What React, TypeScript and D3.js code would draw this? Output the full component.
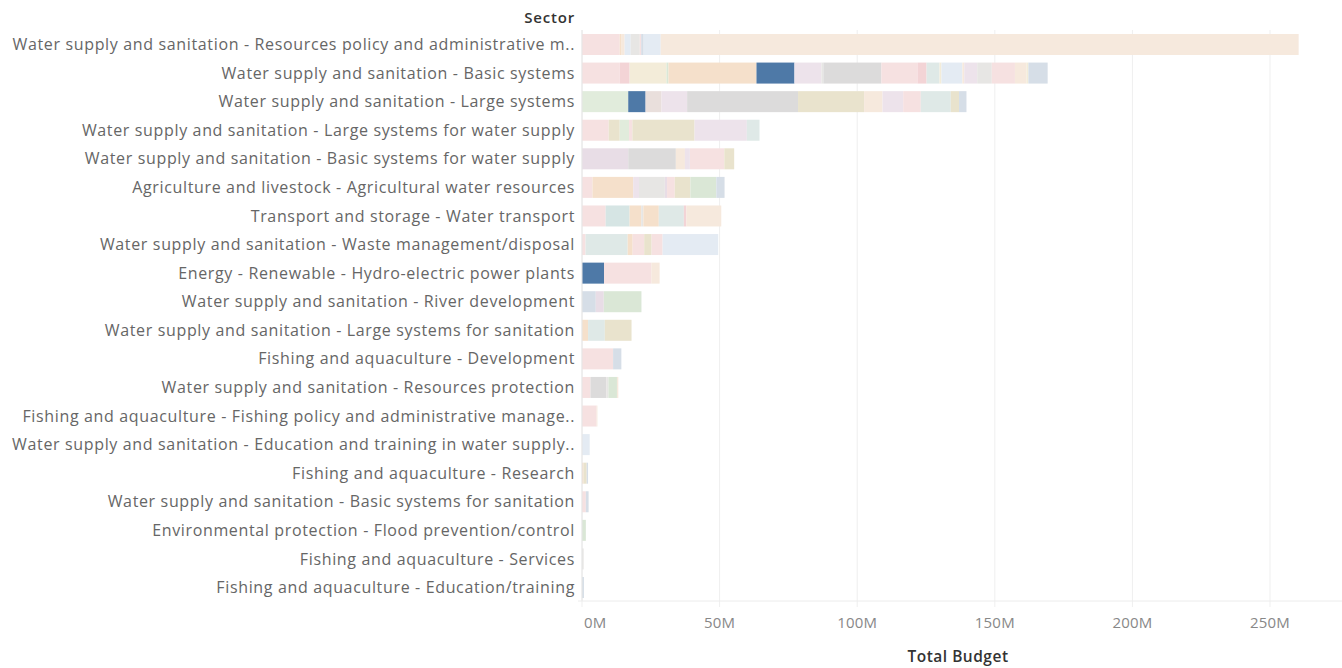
import React from "react";
import * as d3 from "d3";

const sectors = [
  "Water supply and sanitation - Resources policy and administrative m..",
  "Water supply and sanitation - Basic systems",
  "Water supply and sanitation - Large systems",
  "Water supply and sanitation - Large systems for water supply",
  "Water supply and sanitation - Basic systems for water supply",
  "Agriculture and livestock - Agricultural water resources",
  "Transport and storage - Water transport",
  "Water supply and sanitation - Waste management/disposal",
  "Energy - Renewable - Hydro-electric power plants",
  "Water supply and sanitation - River development",
  "Water supply and sanitation - Large systems for sanitation",
  "Fishing and aquaculture - Development",
  "Water supply and sanitation - Resources protection",
  "Fishing and aquaculture - Fishing policy and administrative manage..",
  "Water supply and sanitation - Education and training in water supply..",
  "Fishing and aquaculture - Research",
  "Water supply and sanitation - Basic systems for sanitation",
  "Environmental protection - Flood prevention/control",
  "Fishing and aquaculture - Services",
  "Fishing and aquaculture - Education/training",
];

// budget per stacked segment (millions)
const segmentValues: number[][] = [
  [13.7, 0.7, 1.1, 2.2, 3.3, 0.5, 0.9, 6.2, 231.8],
  [13.7, 3.6, 13.4, 0.7, 32.0, 13.8, 9.8, 0.7, 21.1, 13.1, 3.3, 4.7, 0.7, 7.6, 0.7, 4.7, 5.3, 8.4, 4.2, 0.7, 7.0],
  [16.8, 6.3, 5.8, 9.3, 40.3, 24.0, 6.7, 7.5, 6.4, 10.9, 3.0, 2.7],
  [9.7, 4.0, 3.4, 1.2, 22.6, 19.0, 4.6],
  [16.8, 17.3, 3.3, 1.8, 12.5, 3.6],
  [3.8, 14.8, 2.1, 9.4, 0.8, 2.8, 5.7, 9.4, 3.0],
  [8.6, 8.7, 4.2, 0.8, 5.6, 9.1, 0.9, 12.7],
  [1.3, 15.3, 1.8, 4.2, 2.7, 4.0, 20.2],
  [8.0, 17.2, 3.0],
  [5.0, 2.9, 13.7],
  [2.2, 6.1, 9.7],
  [11.3, 3.0],
  [3.1, 5.8, 0.7, 3.1, 0.5],
  [5.3, 0.3],
  [2.8],
  [0.6, 1.1, 0.5],
  [1.4, 1.0],
  [1.4],
  [0.6],
  [0.7],
];

// sub-category (colour group) of each segment
const segmentGroups: string[][] = [
  ["pink", "orange", "peach", "lightblue", "lightgray", "pink", "bluegray", "lightblue", "peach"],
  ["pink", "pinkDeep", "cream", "green", "orange", "highlight", "lavender", "lightgray", "gray", "pink", "pinkDeep", "teal", "cream", "lightblue", "peach", "lavender", "lightgray", "pink", "peach", "cream", "bluegray"],
  ["greenLight", "highlight", "brown", "lavender", "gray", "olive", "peach", "lavender", "pink", "teal", "olive", "bluegray"],
  ["pink", "olive", "greenLight", "pink", "olive", "lavender", "teal"],
  ["mauve", "gray", "peach", "lavender", "pink", "olive"],
  ["pink", "orange", "lavender", "lightgray", "mauve", "pink", "olive", "green", "bluegray"],
  ["pink", "teal2", "orange", "lightgray", "orange", "teal", "pinkDeep", "peach"],
  ["pink", "teal", "orange", "pink", "olive", "pink", "lightblue"],
  ["highlight", "pink", "peach"],
  ["bluegray", "mauve", "green"],
  ["orange", "teal", "olive"],
  ["pink", "bluegray"],
  ["pink", "gray", "lightgray", "green", "peach"],
  ["pink", "peach"],
  ["lightblue"],
  ["orange", "olive", "bluegray"],
  ["pink", "bluegray"],
  ["green"],
  ["lightgray"],
  ["bluegray"],
];

const tickValues = [0, 50, 100, 150, 200, 250];

const palette: Record<string, string> = {
  pink: "#f6e1e1",
  pinkDeep: "#f3d4d6",
  peach: "#f6e9dd",
  orange: "#f5e0cb",
  cream: "#f3ecd9",
  olive: "#e9e3cd",
  greenLight: "#e1ecdc",
  green: "#dae7d6",
  teal: "#dfe9e7",
  teal2: "#d6e5e4",
  lightblue: "#e4ebf3",
  bluegray: "#d6dee7",
  gray: "#dcdbdb",
  lightgray: "#e7e6e4",
  lavender: "#ede3eb",
  mauve: "#e8dde6",
  brown: "#e9dfdc",
  highlight: "#4e79a7",
};

const W = 1342;
const H = 668;
const FONT = "'Open Sans', sans-serif";

export default function App() {
  const x = d3.scaleLinear().domain([0, 273.5]).range([582, 1334.7]);
  const y = d3.scaleBand<string>().domain(sectors).range([30.2, 601.8]).padding(0);
  const barH = y.bandwidth() * 0.735;
  const axisY = 601;

  return (
    <svg width={W} height={H} style={{ position: "absolute", left: 0, top: 0, background: "#fff" }} fontFamily={FONT}>
      {tickValues.map((t) => (
        <line key={"g" + t} x1={x(t)} x2={x(t)} y1={30} y2={axisY + 6} stroke="#efefef" strokeWidth={1} />
      ))}
      {sectors.map((s, i) => {
        const stack = d3.cumsum([0, ...segmentValues[i]]);
        const y0 = (y(s) as number) + (y.bandwidth() - barH) / 2;
        return (
          <g key={s}>
            {segmentValues[i].map((v, j) => (
              <rect
                key={j}
                x={x(stack[j])}
                y={y0}
                width={Math.max(0.6, x(stack[j] + v) - x(stack[j]))}
                height={barH}
                fill={palette[segmentGroups[i][j]]}
              />
            ))}
          </g>
        );
      })}
      <line x1={x(0)} x2={x(0)} y1={30} y2={axisY} stroke="#e6e6e6" />
      <line x1={578} x2={W} y1={axisY} y2={axisY} stroke="#ececec" />
      {sectors.map((s) => (
        <text
          key={"l" + s}
          x={575}
          y={(y(s) as number) + y.bandwidth() / 2}
          dy="0.35em"
          textAnchor="end"
          fontSize={16}
          letterSpacing={0.65}
          fill="#666"
        >
          {s}
        </text>
      ))}
      <text x={575} y={23} textAnchor="end" fontSize={15} letterSpacing={0.8} fontWeight="600" fill="#333">
        Sector
      </text>
      {tickValues.map((t, i) => (
        <text
          key={"t" + t}
          x={i === 0 ? x(t) + 2 : x(t)}
          y={628}
          textAnchor={i === 0 ? "start" : "middle"}
          fontSize={15}
          letterSpacing={0.2}
          fill="#888"
        >
          {t + "M"}
        </text>
      ))}
      <text x={958} y={662} textAnchor="middle" fontSize={15.5} letterSpacing={0.5} fontWeight="600" fill="#333">
        Total Budget
      </text>
    </svg>
  );
}
